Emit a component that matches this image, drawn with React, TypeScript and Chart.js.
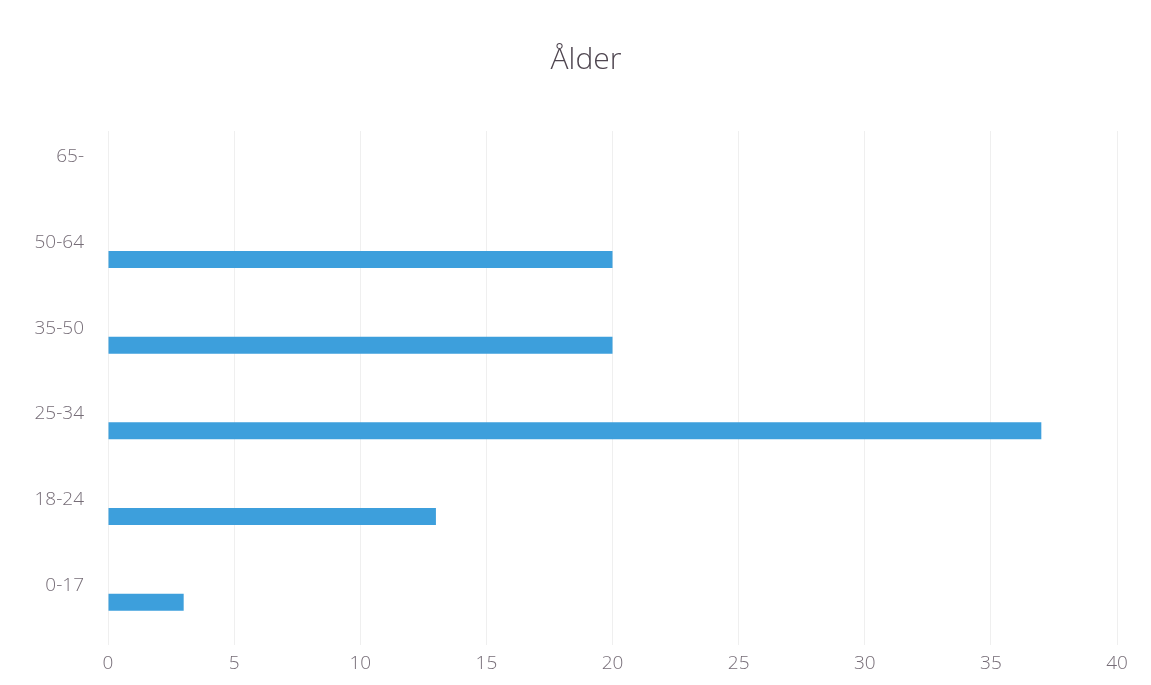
import React, { useEffect, useRef } from "react";
import { Chart, registerables } from "chart.js";

Chart.register(...registerables);

// Age groups, listed top to bottom as drawn
const ageGroups = ["65-", "50-64", "35-50", "25-34", "18-24", "0-17"];
// Number of respondents per age group
const counts = [0, 20, 20, 37, 13, 3];
// Value axis range and step
const xMin = 0;
const xMax = 40;
const xStep = 5;

const TEXT = "#766d77";
const TITLE = "#4f4650";
const BAR = "#3d9fdc";
const FONT = "'Open Sans', sans-serif";

export default function App() {
  const canvasRef = useRef<HTMLCanvasElement | null>(null);

  useEffect(() => {
    document.body.style.margin = "0";
    const canvas = canvasRef.current;
    if (!canvas) return;
    const chart = new Chart(canvas, {
      type: "bar",
      data: {
        labels: ageGroups,
        datasets: [
          {
            label: "Ålder",
            data: counts,
            backgroundColor: BAR,
            borderWidth: 0,
            inflateAmount: 0,
            barThickness: 17,
          },
        ],
      },
      options: {
        indexAxis: "y",
        animation: false,
        responsive: true,
        maintainAspectRatio: false,
        layout: { padding: { left: 21, right: 0, top: 0, bottom: 0 } },
        plugins: {
          legend: { display: false },
          tooltip: { enabled: false },
          title: {
            display: true,
            text: "Ålder",
            color: TITLE,
            font: { family: FONT, size: 30, weight: "300", lineHeight: 1.2 },
            padding: { top: 42, bottom: 53 },
          },
        },
        scales: {
          x: {
            min: xMin,
            max: xMax,
            border: { display: false },
            grid: { color: "#efefef", lineWidth: 1, drawTicks: false },
            ticks: {
              stepSize: xStep,
              color: TEXT,
              padding: 7,
              font: { family: FONT, size: 19, weight: "300", lineHeight: 1.2 },
            },
            afterFit: (scale: any) => {
              scale.height = 40;
              scale.paddingRight = 34;
            },
          },
          y: {
            border: { display: false },
            grid: { display: false, drawTicks: false },
            ticks: {
              color: TEXT,
              padding: 24,
              labelOffset: -17,
              font: { family: FONT, size: 19, weight: "300", lineHeight: 1.2 },
            },
            afterFit: (scale: any) => {
              scale.width = 87;
            },
          },
        },
      },
    });
    return () => chart.destroy();
  }, []);

  return (
    <div style={{ position: "fixed", left: 0, top: 0, width: 1151, height: 685, background: "#fff" }}>
      <canvas ref={canvasRef} />
    </div>
  );
}
